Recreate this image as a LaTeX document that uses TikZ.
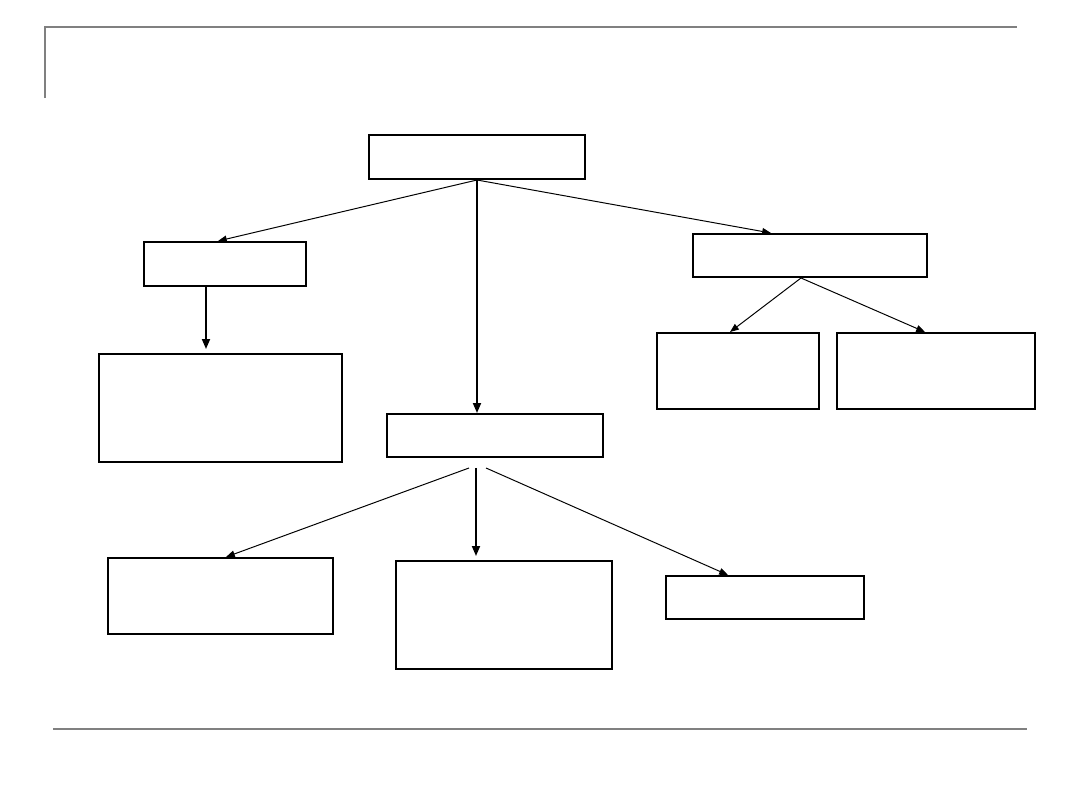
\documentclass[tikz,border=0pt]{standalone}
\usepackage{xcolor}
\usepackage{tikz}
\usetikzlibrary{arrows.meta,positioning,calc}
\definecolor{rulegray}{RGB}{128,128,128}

\begin{document}
\begin{tikzpicture}[
  x=0.025cm, y=-0.025cm,
  box/.style={draw, line width=1.4pt, inner sep=0pt, minimum width=5.4cm, minimum height=1.1cm},
  arr/.style={-{Triangle[length=0.22cm,width=0.17cm]}, line width=0.7pt},
  arrthick/.style={-{Triangle[length=0.25cm,width=0.2cm]}, line width=1.3pt},
  frame/.style={rulegray, line width=1.4pt}
]
\useasboundingbox (0,0) rectangle (1080,810);
% slide rules
\draw[frame] (45,98) -- (45,27) -- (1017,27);
\draw[frame] (53,729) -- (1027,729);
% boxes
\node[box] (top) at (477,157) {};
\node[box, minimum width=4.05cm] (lefta) at (225,264) {};
\node[box, minimum width=6.075cm, minimum height=2.7cm] (leftb) at (220.5,408) {};
\node[box, minimum height=1.075cm] (mid) at (495,435.5) {};
\node[box, minimum width=5.85cm, minimum height=1.075cm] (righta) at (810,255.5) {};
\node[box, minimum width=4.05cm, minimum height=1.9cm] (rightb) at (738,371) {};
\node[box, minimum width=4.95cm, minimum height=1.9cm] (rightc) at (936,371) {};
\node[box, minimum width=5.625cm, minimum height=1.9cm] (bota) at (220.5,596) {};
\node[box, minimum height=2.7cm] (botb) at (504,615) {};
\node[box, minimum width=4.95cm, minimum height=1.075cm] (botc) at (765,597.5) {};
% connectors
\draw[arr] (top.south) -- ($(lefta.north)+(-7,0)$);
\draw[arrthick] (top.south) -- (top.south |- mid.north);
\draw[arr] (top.south) -- ($(righta.north)+(-39,0)$);
\draw[arrthick] ($(lefta.south)+(-19,0)$) -- ($(leftb.north)+(-14.5,-4)$);
\draw[arr] ($(righta.south)+(-9,0)$) -- ($(rightb.north)+(-8,0)$);
\draw[arr] ($(righta.south)+(-9,0)$) -- ($(rightc.north)+(-11,0)$);
\coordinate (forka) at ($(mid.south)+(-26,10)$);
\coordinate (forkb) at ($(mid.south)+(-19,10)$);
\coordinate (forkc) at ($(mid.south)+(-9,10)$);
\draw[arr] (forka) -- ($(bota.north)+(5.5,0)$);
\draw[arrthick] (forkb) -- ($(forkb |- botb.north)+(0,-4)$);
\draw[arr] (forkc) -- ($(botc.north)+(-37,0)$);
\end{tikzpicture}
\end{document}
